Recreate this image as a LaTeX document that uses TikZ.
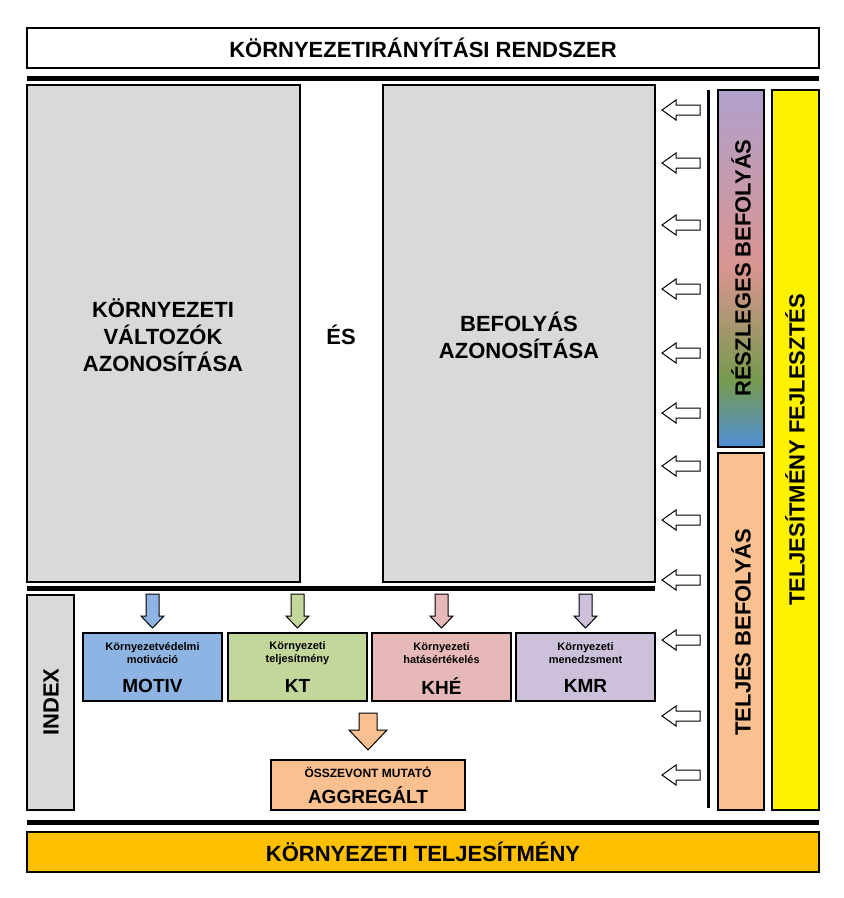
\documentclass[tikz,border=0pt]{standalone}
\usepackage{fontspec}
\setmainfont{Liberation Sans}
\begin{document}
\begin{tikzpicture}[x=1pt,y=-1pt,
  box/.style={draw=black,line width=1.5pt,inner sep=0pt},
  big/.style={font=\bfseries\fontsize{22}{27}\selectfont,align=center},
  sm/.style={font=\bfseries\fontsize{11}{13}\selectfont,align=center},
  lg/.style={font=\bfseries\fontsize{19}{22}\selectfont},
  harrow/.style={draw=black,line width=1pt,fill=white},
  thick line/.style={line width=5pt}]
\useasboundingbox (0,0) rectangle (844,898);
\definecolor{gr}{HTML}{D9D9D9}
\definecolor{cblue}{HTML}{8DB4E2}
\definecolor{cgreen}{HTML}{C4D79B}
\definecolor{cred}{HTML}{E6B8B7}
\definecolor{cpurp}{HTML}{CCC0DA}
\definecolor{corange}{HTML}{FAC090}
\definecolor{cgold}{HTML}{FFC000}
\definecolor{gpurp}{HTML}{B0A0CC}
\definecolor{gpink}{HTML}{D99490}
\definecolor{ggreen}{HTML}{779A4E}
\definecolor{gblue}{HTML}{4F8FD6}
% top
\draw[box,fill=white] (27,28) rectangle (819,68);
\node[big] (top) at (423,48) {KÖRNYEZETIRÁNYÍTÁSI RENDSZER};
\draw[thick line] (27,78) -- (819,78);
% gray boxes
\draw[box,fill=gr] (27,85) rectangle (300,582);
\node[big] (kv) at (163,335) {KÖRNYEZETI\\VÁLTOZÓK\\AZONOSÍTÁSA};
\node[big] (es) at (341,335) {ÉS};
\draw[box,fill=gr] (383,85) rectangle (655,582);
\node[big] (bef) at (519,335) {BEFOLYÁS\\AZONOSÍTÁSA};
\draw[thick line] (27,588) -- (655,588);
% right side
\draw[line width=3pt] (708,90) -- (708,808);
\foreach \y in {110,163,225,289,353,413,466,520,580,640,716,775}{
  \draw[harrow] (662,\y) -- (676,\y-10) -- (676,\y-5) -- (700,\y-5) -- (700,\y+5) -- (676,\y+5) -- (676,\y+10) -- cycle;}
\shade[top color=gpurp,bottom color=gpink] (718,90) rectangle (764,268);
\shade[top color=gpink,bottom color=ggreen] (718,268) rectangle (764,380);
\shade[top color=ggreen,bottom color=gblue] (718,380) rectangle (764,447);
\draw[line width=1.5pt] (718,90) rectangle (764,447);
\node[big,rotate=90] (resz) at (741,268) {RÉSZLEGES BEFOLYÁS};
\draw[box,fill=corange] (718,453) rectangle (764,810);
\node[big,rotate=90] (telj) at (741,632) {TELJES BEFOLYÁS};
\draw[box,fill=yellow] (772,90) rectangle (819,810);
\node[big,rotate=90] (fejl) at (795,450) {TELJESÍTMÉNY FEJLESZTÉS};
% index
\draw[box,fill=gr] (27,595) rectangle (74,810);
\node[big,rotate=90] (idx) at (51,702) {INDEX};
% small boxes
\foreach \x/\c/\a/\b/\n in {83/cblue/Környezetvédelmi/motiváció/MOTIV,228/cgreen/Környezeti/teljesítmény/KT,372/cred/Környezeti/hatásértékelés/KHÉ,516/cpurp/Környezeti/menedzsment/KMR}{
  \draw[box,fill=\c] (\x,633) rectangle (\x+139,701);
  \node[sm] (t\n) at (\x+69.5,653) {\a\\\b};
  \node[lg] (n\n) at (\x+69.5,686) {\n};
  \draw[harrow,fill=\c] (\x+63,594) -- (\x+76,594) -- (\x+76,616) -- (\x+81,616) -- (\x+69.5,628) -- (\x+58,616) -- (\x+63,616) -- cycle;}
% aggregate
\draw[harrow,fill=corange] (359,713) -- (377,713) -- (377,730) -- (387,730) -- (368,750) -- (349,730) -- (359,730) -- cycle;
\draw[box,fill=corange] (271,760) rectangle (465,810);
\node[font=\bfseries\fontsize{12}{14}\selectfont] (os) at (368,772) {ÖSSZEVONT MUTATÓ};
\node[lg] (agg) at (368,795) {AGGREGÁLT};
% bottom
\draw[thick line] (27,822) -- (819,822);
\draw[box,fill=cgold] (27,832) rectangle (819,872);
\node[big] (kt) at (423,852) {KÖRNYEZETI TELJESÍTMÉNY};
\end{tikzpicture}
\end{document}
